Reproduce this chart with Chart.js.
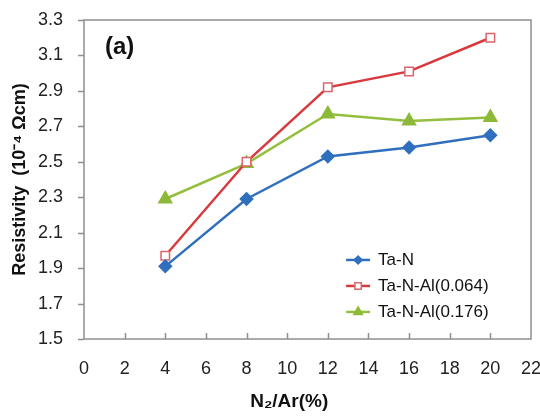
<!DOCTYPE html>
<html>
<head>
<meta charset="utf-8">
<script src="https://cdn.jsdelivr.net/npm/chart.js@4/dist/chart.umd.min.js"></script>
<style>
  html, body { margin: 0; padding: 0; background: #fff; }
  #wrap { width: 540px; height: 416px; }
</style>
</head>
<body>
<div id="wrap"><canvas id="chart" width="540" height="416"></canvas></div>
<script>
// N2/Ar ratio (%) and resistivity (10^-4 Ωcm)
const ratios = [4, 8, 12, 16, 20];
const taN = [1.91, 2.29, 2.53, 2.58, 2.65];
const taNAl064 = [1.97, 2.50, 2.92, 3.01, 3.20];
const taNAl176 = [2.29, 2.49, 2.77, 2.73, 2.75];
const seriesNames = ['Ta-N', 'Ta-N-Al(0.064)', 'Ta-N-Al(0.176)'];
const xTicks = [0, 2, 4, 6, 8, 10, 12, 14, 16, 18, 20, 22];
const yTicks = [1.5, 1.7, 1.9, 2.1, 2.3, 2.5, 2.7, 2.9, 3.1, 3.3];

const FONT = '"Liberation Sans", Arial, sans-serif';

const toPoints = ys => ratios.map((x, i) => ({ x: x, y: ys[i] }));

// box around the plot, tick marks, "(a)" tag, x title and legend
const framePlugin = {
  id: 'frame',
  afterDraw(chart) {
    const { ctx, chartArea: a, scales } = chart;
    ctx.save();
    ctx.strokeStyle = '#8f8f8f';
    ctx.lineWidth = 1.5;
    ctx.strokeRect(a.left, a.top, a.right - a.left, a.bottom - a.top);

    ctx.beginPath();
    xTicks.slice(1, -1).forEach(v => {
      const px = Math.round(scales.x.getPixelForValue(v)) + 0.5;
      ctx.moveTo(px, a.bottom);
      ctx.lineTo(px, a.bottom - 6);
    });
    yTicks.forEach(v => {
      const py = Math.round(scales.y.getPixelForValue(v)) + 0.5;
      ctx.moveTo(a.left, py);
      ctx.lineTo(a.left - 6, py);
    });
    ctx.stroke();

    ctx.fillStyle = '#111';
    ctx.textBaseline = 'middle';
    ctx.font = 'bold 24px ' + FONT;
    ctx.fillText('(a)', a.left + 21, a.top + 27);

    ctx.font = 'bold 19px ' + FONT;
    ctx.textAlign = 'center';
    ctx.fillText('N\u2082/Ar(%)', scales.x.getPixelForValue(10.1), 402);
    ctx.textAlign = 'left';

    // legend rows
    const lx = scales.x.getPixelForValue(13.49);
    let ly = scales.y.getPixelForValue(1.946);
    chart.data.datasets.forEach(ds => {
      ctx.strokeStyle = ds.borderColor;
      ctx.lineWidth = 2.5;
      ctx.beginPath();
      ctx.moveTo(lx - 12, ly);
      ctx.lineTo(lx + 12, ly);
      ctx.stroke();
      ctx.fillStyle = ds.pointBackgroundColor;
      ctx.strokeStyle = ds.pointBorderColor;
      ctx.lineWidth = 1.5;
      Chart.helpers.drawPoint(ctx, {
        pointStyle: ds.pointStyle,
        radius: ds.pointRadius - 1.5,
        borderWidth: 1.5,
        rotation: 0
      }, lx, ly);
      ctx.fillStyle = '#111';
      ctx.font = '17px ' + FONT;
      ctx.fillText(ds.label, lx + 20, ly);
      ly += 26;
    });
    ctx.restore();
  }
};

new Chart(document.getElementById('chart'), {
  type: 'line',
  data: {
    datasets: [
      {
        label: seriesNames[0],
        data: toPoints(taN),
        borderColor: '#2f6fbd',
        borderWidth: 2.5,
        pointStyle: 'rectRot',
        pointRadius: 5.5,
        pointBackgroundColor: '#2f6fbd',
        pointBorderColor: '#2f6fbd'
      },
      {
        label: seriesNames[1],
        data: toPoints(taNAl064),
        borderColor: '#d9393c',
        borderWidth: 2.5,
        pointStyle: 'rect',
        pointRadius: 6,
        pointBackgroundColor: '#ffffff',
        pointBorderColor: '#d9666c',
        pointBorderWidth: 1.5
      },
      {
        label: seriesNames[2],
        data: toPoints(taNAl176),
        borderColor: '#93bf3e',
        borderWidth: 2.5,
        pointStyle: 'triangle',
        pointRadius: 6.5,
        pointBackgroundColor: '#8cba38',
        pointBorderColor: '#8cba38'
      }
    ]
  },
  options: {
    responsive: false,
    animation: false,
    layout: { padding: { left: 0, right: 9, top: 20, bottom: 0 } },
    plugins: {
      legend: { display: false },
      tooltip: { enabled: false }
    },
    scales: {
      x: {
        type: 'linear',
        min: 0,
        max: 22,
        afterBuildTicks: s => { s.ticks = xTicks.map(v => ({ value: v })); },
        afterFit: s => { s.height = 77; s.paddingLeft = 0; s.paddingRight = 0; },
        grid: { display: false },
        border: { display: false },
        ticks: {
          color: '#222',
          font: { family: FONT, size: 18 },
          padding: 11,
          maxRotation: 0
        }
      },
      y: {
        min: 1.5,
        max: 3.3,
        afterBuildTicks: s => { s.ticks = yTicks.map(v => ({ value: v })); },
        afterFit: s => { s.width = 84; s.paddingTop = 0; s.paddingBottom = 0; },
        grid: { display: false },
        border: { display: false },
        ticks: {
          color: '#222',
          font: { family: FONT, size: 18 },
          padding: 13,
          callback: v => Number(v).toFixed(1)
        },
        title: {
          display: true,
          text: 'Resistivity  (10\u207B\u2074 \u03A9cm)',
          color: '#111',
          font: { family: FONT, size: 18, weight: 'bold' },
          padding: { top: 9, bottom: 0 }
        }
      }
    }
  },
  plugins: [framePlugin]
});
</script>
</body>
</html>
